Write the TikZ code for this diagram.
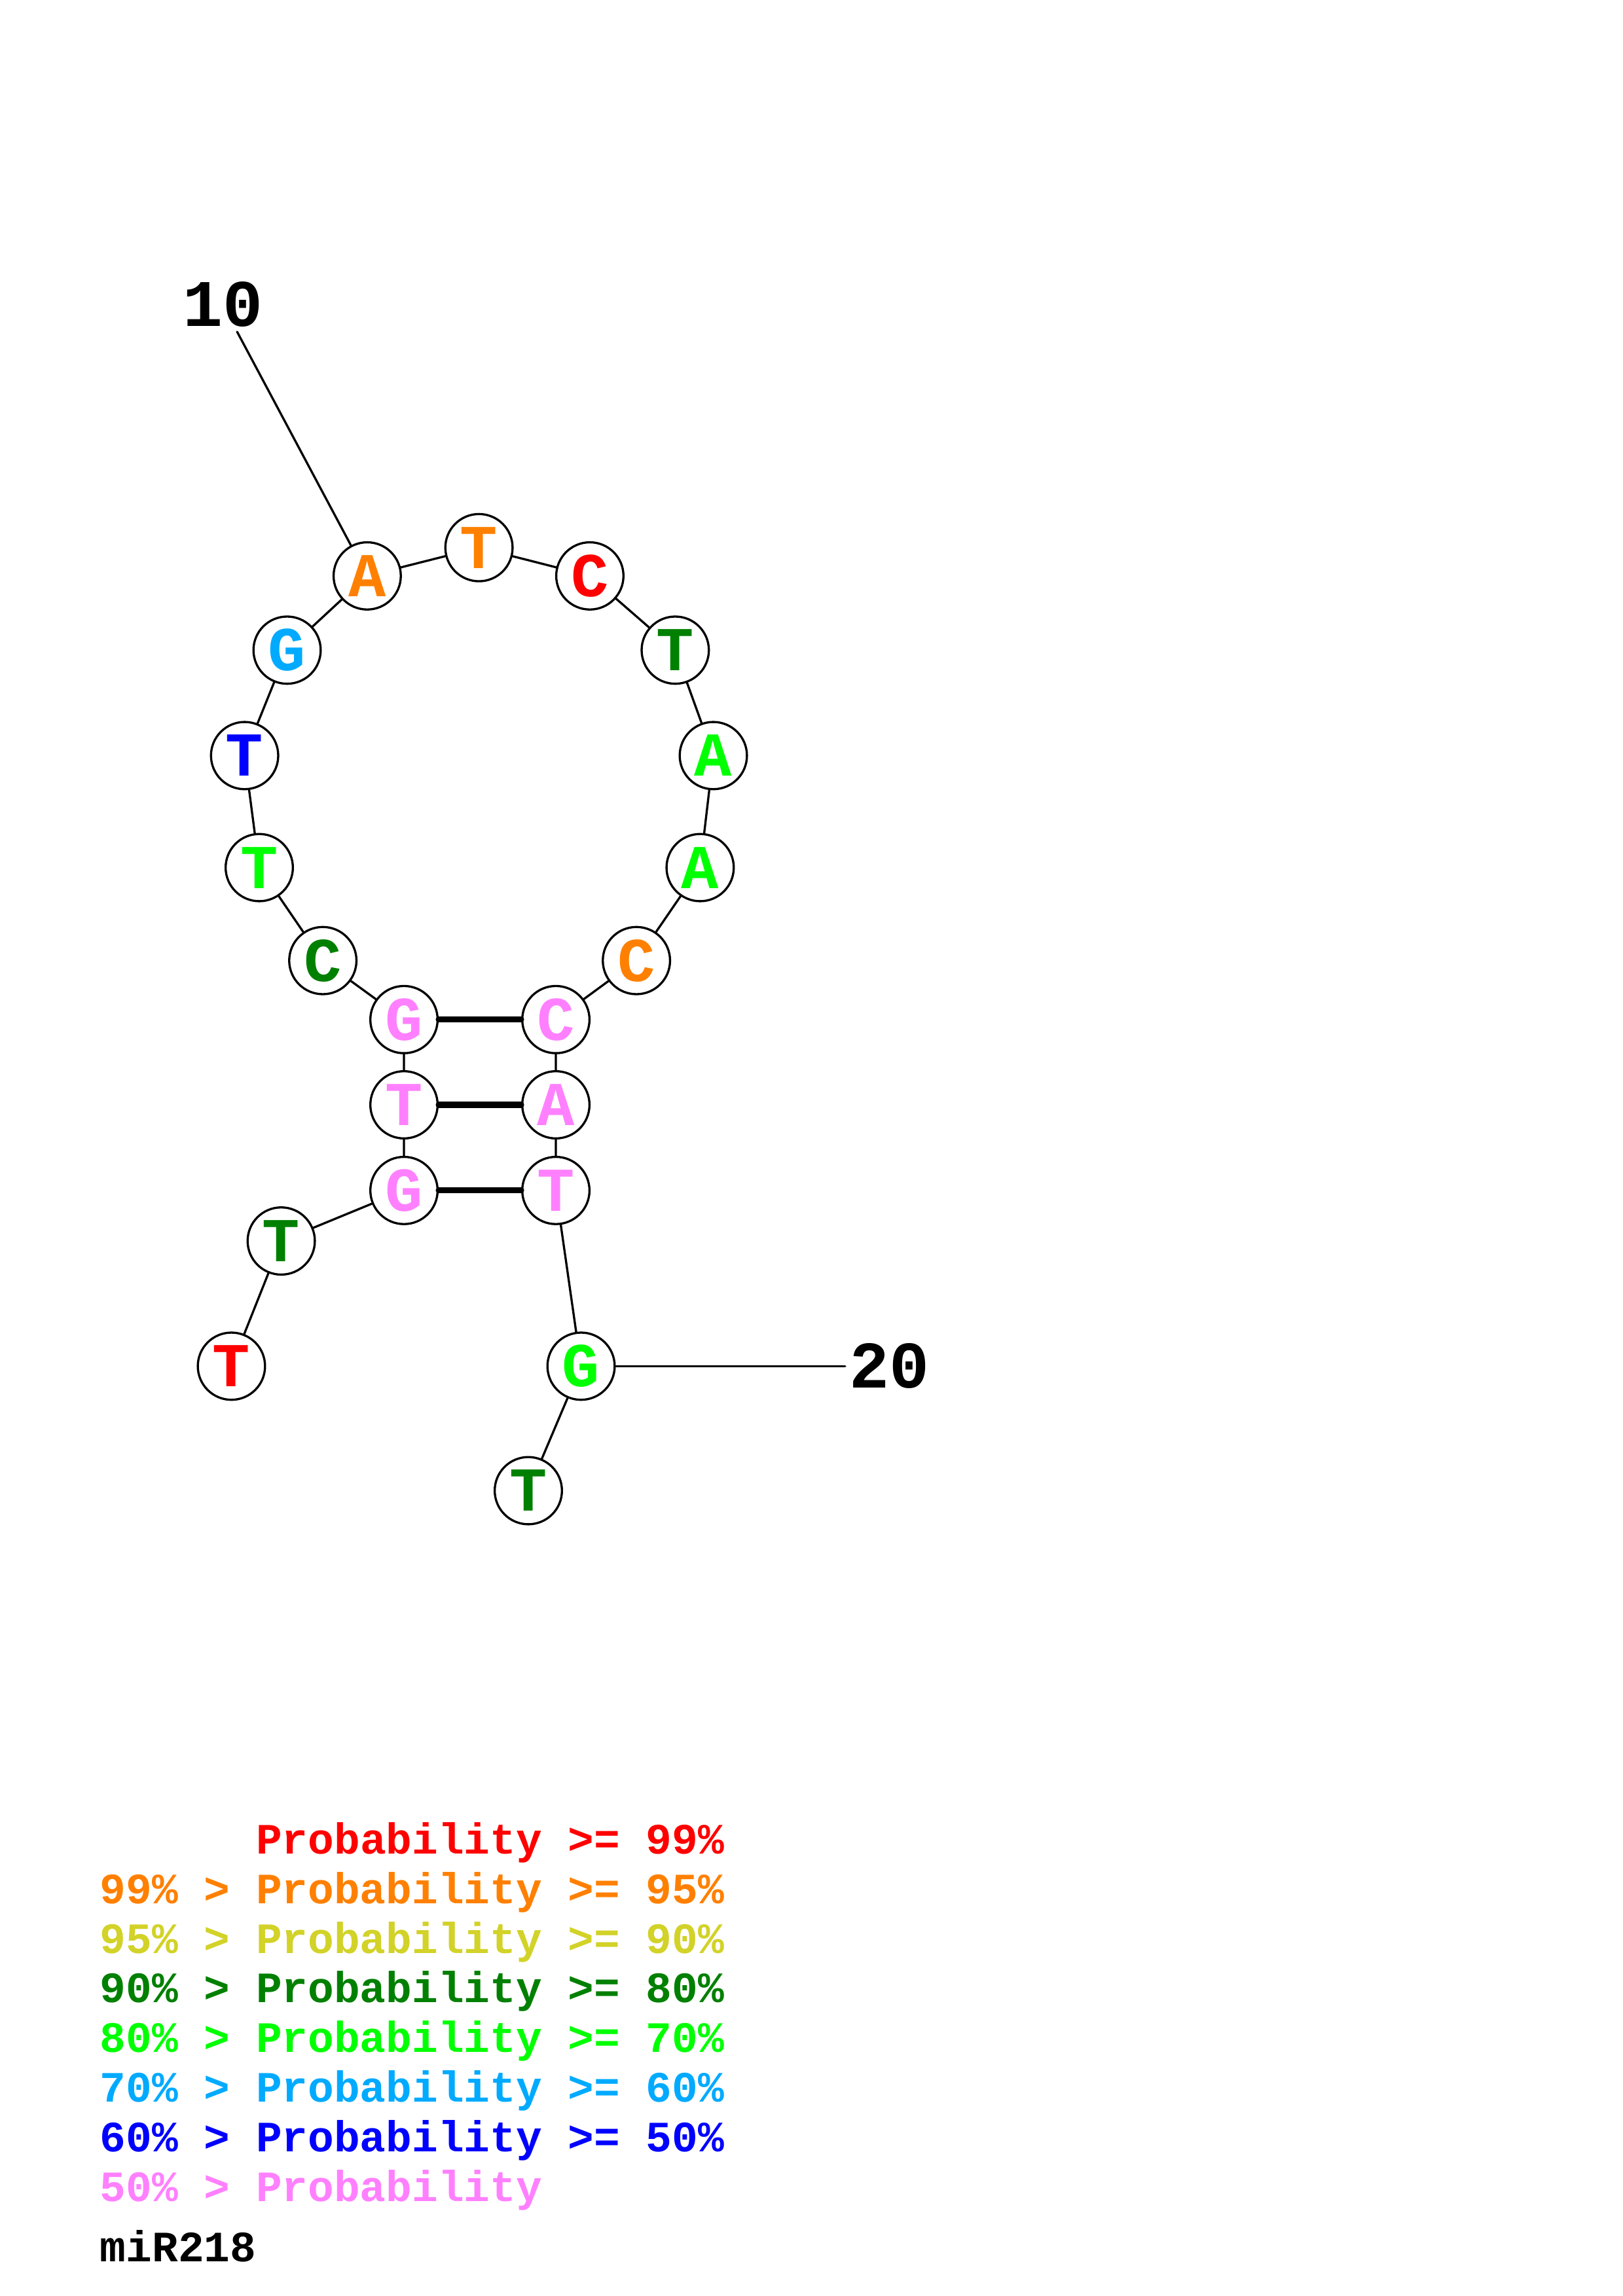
\documentclass[tikz,border=0pt]{standalone}
\usepackage{fontspec}
\newfontfamily\courbf{Liberation Mono}[BoldFont={Liberation Mono Bold}]
\definecolor{pr99}{RGB}{255,0,0}
\definecolor{pr95}{RGB}{255,128,0}
\definecolor{pr90}{RGB}{210,210,40}
\definecolor{pr80}{RGB}{0,128,0}
\definecolor{pr70}{RGB}{0,255,0}
\definecolor{pr60}{RGB}{0,170,255}
\definecolor{pr50}{RGB}{0,0,255}
\definecolor{prlow}{RGB}{255,128,255}

\begin{document}
\begin{tikzpicture}[x=0.18953mm, y=-0.18953mm, line cap=round, line join=round,
  base/.style={circle, draw, fill=white, line width=0.8pt, minimum size=8.7mm, inner sep=0pt,
    font=\courbf\bfseries\fontsize{23}{23}\selectfont},
  numlab/.style={inner sep=1.5pt, font=\courbf\bfseries\fontsize{24.5}{25}\selectfont},
  leg/.style={anchor=base west, inner sep=0pt, font=\courbf\bfseries\fontsize{15.95}{19}\selectfont},
  bond/.style={line width=0.8pt},
  pair/.style={line width=2.2pt}]

\useasboundingbox (0,0) rectangle (1108,1568);

% nucleotides
\foreach \i/\x/\y/\b/\c in {1/158/933/T/pr99, 2/192/847.5/T/pr80, 3/275.8/813/G/prlow,
    4/275.8/754.5/T/prlow, 5/275.8/696.3/G/prlow, 6/220.4/656/C/pr80, 7/177/592.5/T/pr70,
    8/167/516/T/pr50, 9/196/444/G/pr60, 10/250.7/393.3/A/pr95, 11/327/374/T/pr95,
    12/402.7/393.3/C/pr99, 13/461/444/T/pr80, 14/487/516/A/pr70, 15/478/592.5/A/pr70,
    16/434.5/656/C/pr95, 17/379.5/696.3/C/prlow, 18/379.5/754.5/A/prlow,
    19/379.5/813/T/prlow, 20/396.7/933/G/pr70, 21/360.7/1018/T/pr80}
  \node[base, text=\c] (n\i) at (\x,\y) {\b};

% backbone
\draw[bond] (n1) -- (n2) -- (n3) -- (n4) -- (n5) -- (n6) -- (n7) -- (n8) -- (n9) -- (n10)
  -- (n11) -- (n12) -- (n13) -- (n14) -- (n15) -- (n16) -- (n17) -- (n18) -- (n19) -- (n20) -- (n21);

% base pairs
\draw[pair] (n3) -- (n19);
\draw[pair] (n4) -- (n18);
\draw[pair] (n5) -- (n17);

% position numbers
\node[numlab] (lab10) at (152,208) {10};
\node[numlab, anchor=west] (lab20) at (577,933) {20};
\draw[bond] (n10) -- (lab10);
\draw[bond] (n20) -- (lab20);

% legend
\node[leg, text=pr99] (leg1) at (68,1266) {\hphantom{99\% > }Probability >= 99\%};
\node[leg, text=pr95] (leg2) at (68,1299.9) {99\% > Probability >= 95\%};
\node[leg, text=pr90] (leg3) at (68,1333.8) {95\% > Probability >= 90\%};
\node[leg, text=pr80] (leg4) at (68,1367.7) {90\% > Probability >= 80\%};
\node[leg, text=pr70] (leg5) at (68,1401.6) {80\% > Probability >= 70\%};
\node[leg, text=pr60] (leg6) at (68,1435.5) {70\% > Probability >= 60\%};
\node[leg, text=pr50] (leg7) at (68,1469.4) {60\% > Probability >= 50\%};
\node[leg, text=prlow] (leg8) at (68,1503.3) {50\% > Probability};
\node[leg] (title) at (68,1544.6) {miR218};

\end{tikzpicture}
\end{document}
